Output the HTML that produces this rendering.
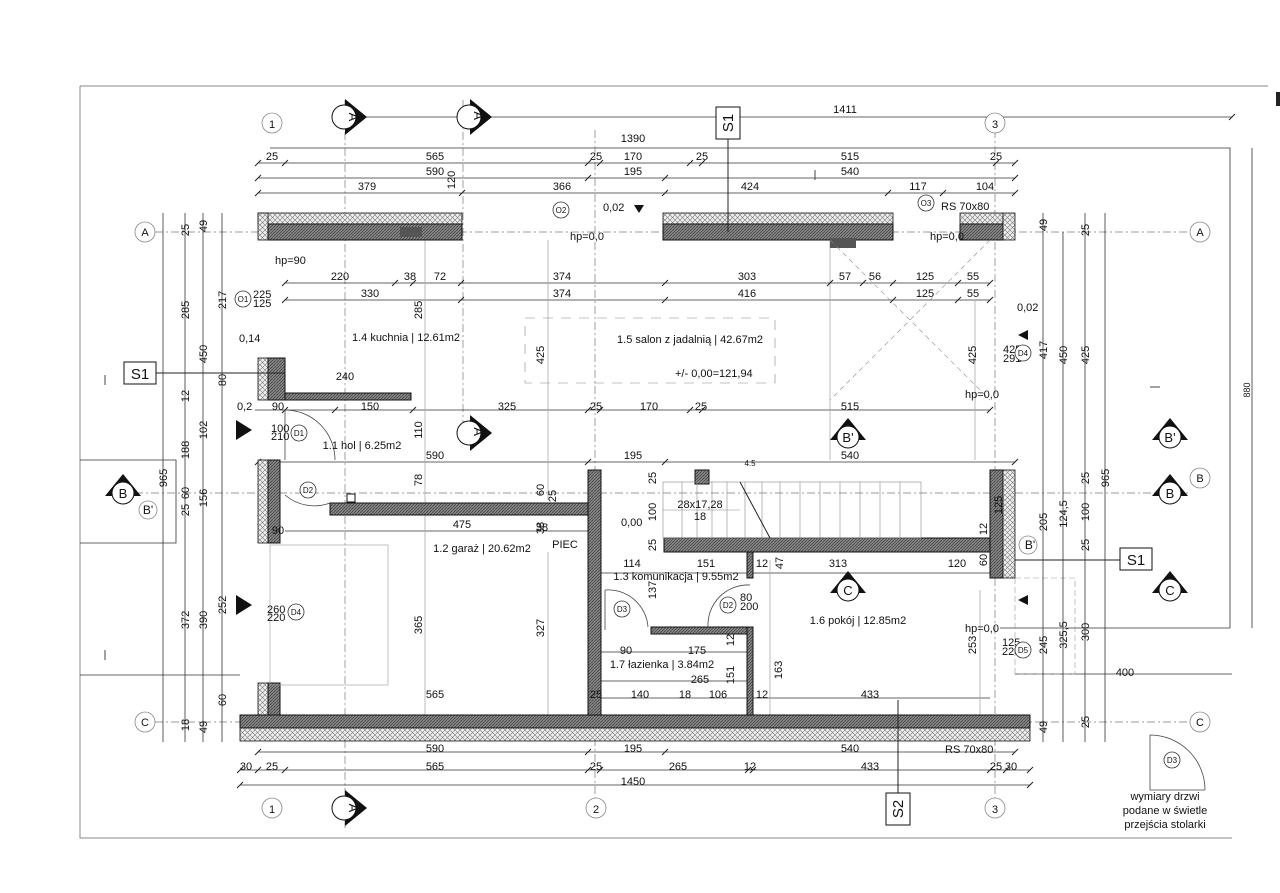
<!DOCTYPE html>
<html><head><meta charset="utf-8"><style>
html,body{margin:0;padding:0;background:#fff}
svg{display:block}
text{font-family:"Liberation Sans",sans-serif;font-size:11px;fill:#111}
.d{stroke:#333;stroke-width:0.8;fill:none}
.g{stroke:#999;stroke-width:0.6;fill:none;stroke-dasharray:6 3}
.ax{stroke:#777;stroke-width:0.7;fill:none;stroke-dasharray:8 3 2 3}
.w{fill:url(#hw);stroke:#111;stroke-width:1}
.i{fill:url(#hi);stroke:#111;stroke-width:0.8}
.t{font-size:12px}
.r{font-size:13px}
</style></head><body>
<svg width="1280" height="893" viewBox="0 0 1280 893" xmlns="http://www.w3.org/2000/svg">
<defs>
<pattern id="hw" width="3" height="3" patternUnits="userSpaceOnUse"><rect width="3" height="3" fill="#888"/><path d="M0 3 L3 0" stroke="#444" stroke-width="0.8"/></pattern>
<pattern id="hi" width="5" height="5" patternUnits="userSpaceOnUse"><rect width="5" height="5" fill="#eee"/><path d="M0 5 L5 0 M0 0 L5 5" stroke="#777" stroke-width="0.6"/></pattern>
</defs>
<!-- frame -->
<path d="M80 86 H1268 M80 86 V838 H1232" stroke="#888" stroke-width="1" fill="none"/>
<rect x="1276" y="92" width="5" height="14" fill="#222"/>
<path d="M270 148 H1230 V628 M1000 628 H1230" class="d"/>
<path d="M80 460 H176 V543 H80" class="d" stroke="#aaa"/>
<path d="M80 675 H240" class="d" stroke="#aaa"/>
<path d="M1015 674 H1232" class="d"/>
<rect x="1015" y="578" width="60" height="96" class="g"/>
<path d="M345 100 V830 M595 130 V800 M995 130 V800 M155 232 H1190 M135 493 H1190 M155 722 H1190 M463 100 V440" class="ax"/>
<g class="d">
<path d="M345 117 H1232"/>
<path d="M258 163 H1015"/><path d="M258 178 H1015"/><path d="M258 193 H1015"/>
<path d="M285 283 H990"/><path d="M285 300 H990"/>
<path d="M255 410 H990"/><path d="M258 462 H1015"/>
<path d="M285 531 H588"/><path d="M601 573 H990"/>
<path d="M601 652 H747"/><path d="M601 681 H747"/><path d="M601 698 H990"/>
<path d="M258 752 H1015"/><path d="M240 770 H1030"/><path d="M240 785 H1030"/>
</g>
<g class="d">
<path d="M163 213 V742"/><path d="M185 213 V742"/><path d="M203 213 V742"/><path d="M222 213 V742"/>
<path d="M1043 213 V742"/><path d="M1063 232 V742"/><path d="M1085 213 V742"/><path d="M1105 213 V742"/><path d="M1252 148 V628"/>
<path d="M425 240 V715" stroke="#aaa"/><path d="M548 240 V500" stroke="#aaa"/><path d="M830 240 V460" stroke="#aaa"/><path d="M975 300 V460" stroke="#aaa"/>
<path d="M548 552 V715" stroke="#aaa"/><path d="M770 560 V715" stroke="#aaa"/><path d="M980 590 V715" stroke="#aaa"/>
</g>
<g stroke="#222" stroke-width="1">
<path d="M255 166 l6 -6 M282 166 l6 -6 M585 166 l6 -6 M597 166 l6 -6 M687 166 l6 -6 M699 166 l6 -6 M993 166 l6 -6 M1012 166 l6 -6"/>
<path d="M255 181 l6 -6 M585 181 l6 -6 M662 181 l6 -6 M1012 181 l6 -6"/>
<path d="M255 196 l6 -6 M459 196 l6 -6 M662 196 l6 -6 M885 196 l6 -6 M940 196 l6 -6 M1012 196 l6 -6"/>
<path d="M282 286 l6 -6 M392 286 l6 -6 M410 286 l6 -6 M458 286 l6 -6 M662 286 l6 -6 M827 286 l6 -6 M860 286 l6 -6 M890 286 l6 -6 M955 286 l6 -6 M987 286 l6 -6"/>
<path d="M282 303 l6 -6 M458 303 l6 -6 M662 303 l6 -6 M890 303 l6 -6 M955 303 l6 -6 M987 303 l6 -6"/>
<path d="M282 413 l6 -6 M332 413 l6 -6 M410 413 l6 -6 M585 413 l6 -6 M597 413 l6 -6 M687 413 l6 -6 M699 413 l6 -6 M987 413 l6 -6"/>
<path d="M255 465 l6 -6 M585 465 l6 -6 M662 465 l6 -6 M1012 465 l6 -6"/>
<path d="M255 755 l6 -6 M585 755 l6 -6 M662 755 l6 -6 M1012 755 l6 -6"/>
<path d="M237 773 l6 -6 M255 773 l6 -6 M282 773 l6 -6 M585 773 l6 -6 M597 773 l6 -6 M745 773 l6 -6 M750 773 l6 -6 M987 773 l6 -6 M1003 773 l6 -6 M1027 773 l6 -6"/>
<path d="M237 788 l6 -6 M1027 788 l6 -6 M342 120 l6 -6 M1229 120 l6 -6"/>
</g>
<!-- walls -->
<rect x="258" y="213" width="204" height="11" class="i"/>
<rect x="258" y="213" width="10" height="27" class="i"/>
<rect x="268" y="224" width="194" height="16" class="w"/>
<rect x="400" y="227" width="22" height="10" fill="#555"/>
<rect x="663" y="213" width="230" height="11" class="i"/>
<rect x="663" y="224" width="230" height="16" class="w"/>
<rect x="830" y="238" width="26" height="10" fill="#555"/>
<rect x="960" y="213" width="43" height="11" class="i"/>
<rect x="960" y="224" width="43" height="16" class="w"/>
<rect x="1003" y="213" width="12" height="27" class="i"/>
<rect x="258" y="358" width="10" height="42" class="i"/><rect x="268" y="358" width="17" height="42" class="w"/>
<rect x="285" y="393" width="126" height="7" class="w"/>
<rect x="258" y="460" width="10" height="83" class="i"/><rect x="268" y="460" width="12" height="83" class="w"/>
<rect x="258" y="683" width="10" height="32" class="i"/><rect x="268" y="683" width="12" height="32" class="w"/>
<rect x="240" y="715" width="790" height="13" class="w"/>
<rect x="240" y="728" width="790" height="13" class="i"/>
<rect x="330" y="503" width="258" height="12" class="w"/>
<rect x="347" y="494" width="8" height="8" fill="#fff" stroke="#111"/>
<rect x="588" y="470" width="13" height="245" class="w"/>
<rect x="664" y="538" width="326" height="14" class="w"/>
<rect x="747" y="552" width="6" height="26" class="w"/>
<rect x="651" y="627" width="102" height="7" class="w"/>
<rect x="747" y="627" width="6" height="88" class="w"/>
<rect x="695" y="470" width="14" height="14" class="w"/>
<rect x="990" y="470" width="13" height="108" class="w"/>
<rect x="1003" y="470" width="12" height="108" class="i"/>
<g stroke="#888" stroke-width="0.6" fill="none">
<rect x="663" y="482" width="258" height="56"/>
<path d="M682 482 V538 M697 482 V538 M712 482 V538 M727 482 V538 M745 482 V538 M762 482 V538 M780 482 V538 M800 482 V538 M820 482 V538 M840 482 V538 M860 482 V538 M880 482 V538 M900 482 V538 M663 510 H740"/>
<path d="M740 482 L770 538" stroke="#222" stroke-width="1"/>
<path d="M830 240 L990 400 M990 240 L830 400" stroke-dasharray="5 4"/>
<rect x="525" y="318" width="250" height="65" stroke-dasharray="10 8"/>
<rect x="270" y="545" width="118" height="140" stroke="#999"/>
</g>
<g stroke="#444" stroke-width="0.8" fill="none">
<path d="M285 410 A50 50 0 0 1 335 460" /><path d="M285 460 V410"/>
<path d="M285 495 A45 45 0 0 0 330 503"/>
<path d="M605 590 A40 40 0 0 1 648 627"/><path d="M605 590 V630"/>
<path d="M708 627 A40 40 0 0 1 750 585"/>
<path d="M1150 735 A55 55 0 0 1 1205 790 M1150 735 V790 H1205"/>
</g>
<g fill="#fff" stroke="#888" stroke-width="0.8">
<circle cx="272" cy="123" r="10"/><circle cx="995" cy="123" r="10"/>
<circle cx="272" cy="808" r="10"/><circle cx="596" cy="808" r="10"/><circle cx="995" cy="808" r="10"/>
<circle cx="145" cy="232" r="10"/><circle cx="1200" cy="232" r="10"/>
<circle cx="145" cy="722" r="10"/><circle cx="1200" cy="722" r="10"/>
<circle cx="1200" cy="478" r="10"/><circle cx="148" cy="510" r="9"/><circle cx="1028" cy="545" r="9"/>
</g>
<g class="r" text-anchor="middle">
<text x="272" y="128">1</text><text x="995" y="128">3</text><text x="272" y="813">1</text><text x="596" y="813">2</text><text x="995" y="813">3</text>
<text x="145" y="236">A</text><text x="1200" y="236">A</text><text x="145" y="726">C</text><text x="1200" y="726">C</text><text x="1200" y="482">B</text>
<text x="148" y="514" class="t">B'</text><text x="1030" y="549" class="t">B'</text>
</g>
<g>
<polygon points="345,99 367,117 345,135" fill="#111"/><circle cx="344" cy="117" r="12" fill="#fff" stroke="#111"/><text transform="translate(349,117) rotate(90)" text-anchor="middle" class="r">A</text>
<polygon points="470,99 492,117 470,135" fill="#111"/><circle cx="469" cy="117" r="12" fill="#fff" stroke="#111"/><text transform="translate(474,117) rotate(90)" text-anchor="middle" class="r">A'</text>
<polygon points="470,415 492,433 470,451" fill="#111"/><circle cx="469" cy="433" r="12" fill="#fff" stroke="#111"/><text transform="translate(474,433) rotate(90)" text-anchor="middle" class="r">A'</text>
<polygon points="345,790 367,808 345,826" fill="#111"/><circle cx="344" cy="808" r="12" fill="#fff" stroke="#111"/><text transform="translate(349,808) rotate(90)" text-anchor="middle" class="r">A</text>
</g>
<g>
<polygon points="830,440 848,418 866,440" fill="#111"/><circle cx="848" cy="437" r="11" fill="#fff" stroke="#111"/><text x="848" y="442" text-anchor="middle" class="r">B'</text>
<polygon points="1152,440 1170,418 1188,440" fill="#111"/><circle cx="1170" cy="437" r="11" fill="#fff" stroke="#111"/><text x="1170" y="442" text-anchor="middle" class="r">B'</text>
<polygon points="1152,496 1170,474 1188,496" fill="#111"/><circle cx="1170" cy="493" r="11" fill="#fff" stroke="#111"/><text x="1170" y="498" text-anchor="middle" class="r">B</text>
<polygon points="105,496 123,474 141,496" fill="#111"/><circle cx="123" cy="493" r="11" fill="#fff" stroke="#111"/><text x="123" y="498" text-anchor="middle" class="r">B</text>
<polygon points="830,593 848,571 866,593" fill="#111"/><circle cx="848" cy="590" r="11" fill="#fff" stroke="#111"/><text x="848" y="595" text-anchor="middle" class="r">C</text>
<polygon points="1152,593 1170,571 1188,593" fill="#111"/><circle cx="1170" cy="590" r="11" fill="#fff" stroke="#111"/><text x="1170" y="595" text-anchor="middle" class="r">C</text>
</g>
<polygon points="236,420 252,430 236,440" fill="#111"/>
<polygon points="236,595 252,605 236,615" fill="#111"/>
<polygon points="634,205 644,205 639,213" fill="#111"/>
<polygon points="1018,335 1028,330 1028,340" fill="#111"/>
<polygon points="1018,600 1028,595 1028,605" fill="#111"/>
<path d="M105 385 V375 M105 650 V660 M1150 387 H1160 M815 180 V170" stroke="#444"/>
<g fill="#fff" stroke="#111" stroke-width="1">
<rect x="716" y="107" width="24" height="32"/><rect x="124" y="362" width="32" height="22"/>
<rect x="1120" y="548" width="32" height="22"/><rect x="886" y="793" width="24" height="32"/>
</g>
<path d="M728 139 V232 M156 373 H285 M1015 560 H1120 M898 793 V700" stroke="#222" stroke-width="1"/>
<text transform="translate(733,123) rotate(-90)" text-anchor="middle" style="font-size:15px">S1</text>
<text x="140" y="379" text-anchor="middle" style="font-size:15px">S1</text>
<text x="1136" y="565" text-anchor="middle" style="font-size:15px">S1</text>
<text transform="translate(903,809) rotate(-90)" text-anchor="middle" style="font-size:15px">S2</text>
<g text-anchor="middle">
<text x="845" y="113">1411</text><text x="633" y="142">1390</text>
<text x="272" y="160">25</text><text x="435" y="160">565</text><text x="596" y="160">25</text><text x="633" y="160">170</text><text x="702" y="160">25</text><text x="850" y="160">515</text><text x="996" y="160">25</text>
<text x="435" y="175">590</text><text x="633" y="175">195</text><text x="850" y="175">540</text>
<text x="367" y="190">379</text><text x="562" y="190">366</text><text x="750" y="190">424</text><text x="918" y="190">117</text><text x="985" y="190">104</text>
<text x="340" y="280">220</text><text x="410" y="280">38</text><text x="440" y="280">72</text><text x="562" y="280">374</text><text x="747" y="280">303</text><text x="845" y="280">57</text><text x="875" y="280">56</text><text x="925" y="280">125</text><text x="973" y="280">55</text>
<text x="370" y="297">330</text><text x="562" y="297">374</text><text x="747" y="297">416</text><text x="925" y="297">125</text><text x="973" y="297">55</text>
<text x="345" y="380">240</text>
<text x="278" y="410">90</text><text x="370" y="410">150</text><text x="507" y="410">325</text><text x="596" y="410">25</text><text x="649" y="410">170</text><text x="701" y="410">25</text><text x="850" y="410">515</text>
<text x="435" y="459">590</text><text x="633" y="459">195</text><text x="850" y="459">540</text><text x="750" y="466" style="font-size:8px">4.5</text>
<text x="278" y="534">90</text><text x="462" y="528">475</text><text x="542" y="531">38</text>
<text x="632" y="567">114</text><text x="706" y="567">151</text><text x="762" y="567">12</text><text x="838" y="567">313</text><text x="957" y="567">120</text>
<text x="626" y="654">90</text><text x="697" y="654">175</text><text x="700" y="683">265</text>
<text x="435" y="698">565</text><text x="596" y="698">25</text><text x="640" y="698">140</text><text x="685" y="698">18</text><text x="718" y="698">106</text><text x="762" y="698">12</text><text x="870" y="698">433</text>
<text x="435" y="752">590</text><text x="633" y="752">195</text><text x="850" y="752">540</text>
<text x="246" y="770">30</text><text x="272" y="770">25</text><text x="435" y="770">565</text><text x="596" y="770">25</text><text x="678" y="770">265</text><text x="750" y="770">12</text><text x="870" y="770">433</text><text x="996" y="770">25</text><text x="1011" y="770">30</text>
<text x="633" y="785">1450</text><text x="1125" y="676">400</text>
<text x="700" y="508">28x17,28</text><text x="700" y="520">18</text>
</g>
<g text-anchor="middle">
<text transform="translate(189,230) rotate(-90)">25</text><text transform="translate(189,310) rotate(-90)">285</text><text transform="translate(189,396) rotate(-90)">12</text><text transform="translate(189,450) rotate(-90)">188</text><text transform="translate(189,493) rotate(-90)">60</text><text transform="translate(189,510) rotate(-90)">25</text><text transform="translate(189,620) rotate(-90)">372</text><text transform="translate(189,725) rotate(-90)">18</text>
<text transform="translate(167,478) rotate(-90)">965</text>
<text transform="translate(207,354) rotate(-90)">450</text><text transform="translate(207,226) rotate(-90)">49</text><text transform="translate(207,430) rotate(-90)">102</text><text transform="translate(207,498) rotate(-90)">156</text><text transform="translate(207,620) rotate(-90)">390</text><text transform="translate(207,727) rotate(-90)">49</text>
<text transform="translate(226,300) rotate(-90)">217</text><text transform="translate(226,380) rotate(-90)">80</text><text transform="translate(226,605) rotate(-90)">252</text><text transform="translate(226,700) rotate(-90)">60</text>
<text transform="translate(422,310) rotate(-90)">285</text><text transform="translate(544,355) rotate(-90)">425</text><text transform="translate(422,430) rotate(-90)">110</text><text transform="translate(422,480) rotate(-90)">78</text><text transform="translate(544,490) rotate(-90)">60</text><text transform="translate(556,496) rotate(-90)">25</text><text transform="translate(544,528) rotate(-90)">38</text>
<text transform="translate(422,625) rotate(-90)">365</text><text transform="translate(544,628) rotate(-90)">327</text>
<text transform="translate(656,478) rotate(-90)">25</text><text transform="translate(656,512) rotate(-90)">100</text><text transform="translate(656,545) rotate(-90)">25</text><text transform="translate(656,590) rotate(-90)">137</text>
<text transform="translate(783,563) rotate(-90)">47</text><text transform="translate(734,640) rotate(-90)">12</text><text transform="translate(734,675) rotate(-90)">151</text><text transform="translate(782,670) rotate(-90)">163</text>
<text transform="translate(976,355) rotate(-90)">425</text><text transform="translate(976,645) rotate(-90)">253</text><text transform="translate(1002,505) rotate(-90)">125</text><text transform="translate(987,529) rotate(-90)">12</text><text transform="translate(987,560) rotate(-90)">60</text>
<text transform="translate(1047,225) rotate(-90)">49</text><text transform="translate(1047,350) rotate(-90)">417</text><text transform="translate(1047,522) rotate(-90)">205</text><text transform="translate(1047,645) rotate(-90)">245</text><text transform="translate(1047,727) rotate(-90)">49</text>
<text transform="translate(1067,355) rotate(-90)">450</text><text transform="translate(1067,514) rotate(-90)">124,5</text><text transform="translate(1067,635) rotate(-90)">325,5</text>
<text transform="translate(1089,230) rotate(-90)">25</text><text transform="translate(1089,355) rotate(-90)">425</text><text transform="translate(1089,478) rotate(-90)">25</text><text transform="translate(1089,512) rotate(-90)">100</text><text transform="translate(1089,545) rotate(-90)">25</text><text transform="translate(1089,632) rotate(-90)">300</text><text transform="translate(1089,722) rotate(-90)">25</text>
<text transform="translate(1109,478) rotate(-90)">965</text><text transform="translate(1250,390) rotate(-90)" style="font-size:9px">880</text>
<text transform="translate(455,180) rotate(-90)">120</text>
</g>
<g class="t" text-anchor="middle">
<text x="406" y="341">1.4 kuchnia | 12.61m2</text>
<text x="690" y="343">1.5 salon z jadalnią | 42.67m2</text>
<text x="362" y="449">1.1 hol | 6.25m2</text>
<text x="482" y="552">1.2 garaż | 20.62m2</text>
<text x="565" y="548">PIEC</text>
<text x="676" y="580">1.3 komunikacja | 9.55m2</text>
<text x="858" y="624">1.6 pokój | 12.85m2</text>
<text x="662" y="668">1.7 łazienka | 3.84m2</text>
<text x="1165" y="800" style="font-size:11px">wymiary drzwi</text><text x="1165" y="814" style="font-size:11px">podane w świetle</text><text x="1165" y="828" style="font-size:11px">przejścia stolarki</text>
</g>
<g style="font-size:10px">
<text x="275" y="264">hp=90</text><text x="570" y="240">hp=0,0</text><text x="930" y="240">hp=0,0</text><text x="965" y="398">hp=0,0</text><text x="965" y="632">hp=0,0</text>
<text x="941" y="210">RS 70x80</text><text x="945" y="753">RS 70x80</text>
<text x="603" y="211">0,02</text><text x="1017" y="311">0,02</text><text x="239" y="342">0,14</text><text x="237" y="410">0,2</text><text x="621" y="526">0,00</text>
<text x="675" y="377">+/- 0,00=121,94</text>
</g>
<g style="font-size:9px">
<text x="253" y="298">225</text><text x="253" y="307">125</text>
<text x="271" y="432">100</text><text x="271" y="440">210</text>
<text x="267" y="613">260</text><text x="267" y="621">220</text>
<text x="740" y="601">80</text><text x="740" y="610">200</text>
<text x="1003" y="353">425</text><text x="1003" y="362">291</text>
<text x="1002" y="646">125</text><text x="1002" y="655">220</text>
</g>
<g fill="#fff" stroke="#333" stroke-width="0.8">
<circle cx="243" cy="299" r="8"/><circle cx="299" cy="433" r="8"/><circle cx="308" cy="490" r="8"/><circle cx="296" cy="612" r="8"/>
<circle cx="622" cy="609" r="8"/><circle cx="728" cy="605" r="8"/><circle cx="561" cy="210" r="8"/><circle cx="926" cy="203" r="8"/>
<circle cx="1023" cy="353" r="8"/><circle cx="1023" cy="650" r="8"/><circle cx="1172" cy="760" r="8"/>
</g>
<g style="font-size:8px" text-anchor="middle">
<text x="243" y="302" style="font-size:8px">O1</text><text x="299" y="436" style="font-size:8px">D1</text><text x="308" y="493" style="font-size:8px">D2</text><text x="296" y="615" style="font-size:8px">D4</text>
<text x="622" y="612" style="font-size:8px">D3</text><text x="728" y="608" style="font-size:8px">D2</text><text x="561" y="213" style="font-size:8px">O2</text><text x="926" y="206" style="font-size:8px">O3</text>
<text x="1023" y="356" style="font-size:8px">D4</text><text x="1023" y="653" style="font-size:8px">D5</text><text x="1172" y="763" style="font-size:8px">D3</text>
</g>
</svg>
</body></html>
